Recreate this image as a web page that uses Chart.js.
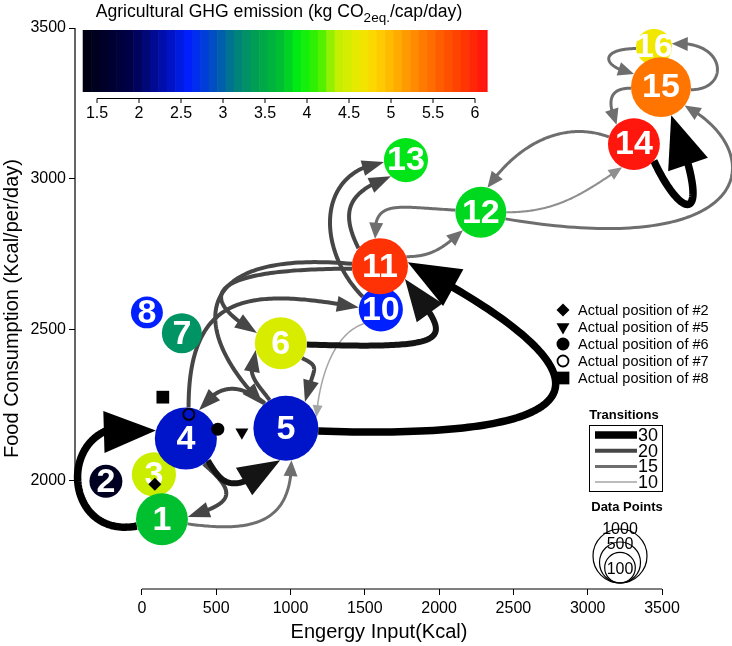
<!DOCTYPE html>
<html>
<head>
<meta charset="utf-8">
<script src="https://cdn.jsdelivr.net/npm/chart.js@4/dist/chart.umd.min.js"></script>
<style>html,body{margin:0;padding:0;background:#fff}</style>
</head>
<body>
<canvas id="chart" width="732" height="646"></canvas>
<script>
// states (drawing order: later ones sit on top)
const nodeIds = [2, 3, 1, 4, 5, 6, 7, 8, 10, 11, 12, 13, 14, 16, 15];
const energyInput = [-242, 81, 135, 296, 969, 935, 269, 34, 1608, 1602, 2281, 1777, 3311, 3446, 3493];
const foodConsumption = [1997, 2020, 1871, 2139, 2173, 2455, 2488, 2557, 2567, 2710, 2889, 3062, 3115, 3437, 3304];
const ghgEmission = [1.5, 4.42, 3.7, 2.4, 2.4, 4.5, 3.3, 2.6, 2.6, 5.9, 3.8, 3.85, 6.1, 4.65, 5.42];
const dataPoints = [190, 620, 920, 1310, 1420, 920, 460, 150, 620, 1080, 880, 620, 920, 310, 1230];

// transitions between states
const transFrom  = [1, 1, 4, 4, 4, 5, 5, 5, 6, 6, 10, 10, 11, 11, 11, 11, 12, 12, 12, 14, 14, 15, 15, 16];
const transTo    = [4, 5, 1, 5, 10, 4, 6, 11, 5, 11, 5, 13, 5, 6, 12, 13, 11, 14, 15, 12, 15, 14, 16, 15];
const transCount = [30, 15, 20, 25, 20, 20, 20, 30, 20, 25, 10, 20, 20, 20, 15, 20, 15, 12, 15, 15, 30, 15, 15, 15];

// actual positions of some states
const markerLabels = ['Actual position of #2', 'Actual position of #5', 'Actual position of #6', 'Actual position of #7', 'Actual position of #8'];
const markerX = [87, 673, 511, 316, 141];
const markerY = [1987, 2160, 2170, 2219, 2276];

const xTicks = [0, 500, 1000, 1500, 2000, 2500, 3000, 3500];
const yTicks = [2000, 2500, 3000, 3500];
const colorTicks = [1.5, 2, 2.5, 3, 3.5, 4, 4.5, 5, 5.5, 6];
const transitionLegend = [30, 20, 15, 10];
const pointLegend = [1000, 500, 100];

const FONT = 'Liberation Sans, Arial, Helvetica, sans-serif';

// colour scale of the emission bar
const cmapStops = [[1.33,[0,0,16]],[1.9,[0,0,72]],[2.3,[0,16,176]],[2.6,[0,32,255]],[2.9,[0,80,192]],
  [3.15,[0,128,128]],[3.4,[0,160,80]],[3.7,[0,192,48]],[3.9,[0,240,16]],[4.15,[64,240,0]],[4.35,[192,240,0]],
  [4.65,[240,232,0]],[4.85,[255,208,0]],[5.15,[255,160,0]],[5.45,[255,112,0]],[5.8,[255,64,0]],[6.15,[255,16,16]]];
function cmap(v) {
  let c = cmapStops[cmapStops.length - 1][1];
  if (v <= cmapStops[0][0]) c = cmapStops[0][1];
  for (let i = 1; i < cmapStops.length; i++) {
    if (v <= cmapStops[i][0] && v > cmapStops[i - 1][0]) {
      const t = (v - cmapStops[i - 1][0]) / (cmapStops[i][0] - cmapStops[i - 1][0]);
      c = cmapStops[i - 1][1].map((a, k) => a + (cmapStops[i][1][k] - a) * t);
      break;
    }
  }
  return 'rgb(' + c.map(Math.round).join(',') + ')';
}
const radius = n => 14 + 0.013 * n;

function interp(xs, ys, v) {
  if (v <= xs[0]) return ys[0];
  for (let i = 1; i < xs.length; i++) {
    if (v <= xs[i]) return ys[i - 1] + (ys[i] - ys[i - 1]) * (v - xs[i - 1]) / (xs[i] - xs[i - 1]);
  }
  return ys[ys.length - 1];
}
const wPts = [10, 15, 20, 25, 30];
function arrowStyle(w) {
  const g = Math.round(interp(wPts, [165, 110, 70, 20, 0], w));
  return {
    width: interp(wPts, [1.5, 3, 4, 6, 7.5], w),
    color: 'rgb(' + g + ',' + g + ',' + g + ')',
    headL: interp(wPts, [12, 16, 22, 42, 52], w),
    headW: interp(wPts, [5, 7, 8, 16, 21], w)
  };
}

// how each arrow leaves / enters its nodes: [angleOut, dx1, dy1, angleIn, dx2, dy2] (px)
const routes = {
  '1-4':   [165, -82, 15, 195, -101, -30],
  '1-5':   [10, 70, 10, 80, 0, 60],
  '4-1':   [55, 35, 30, -5, 45, -14],
  '4-5':   [45, 15, 25, 100, -48, 36],
  '4-10':  [-85, 0, -115, 185, -110, -20],
  '5-4':   [-130, -25, -20, -65, 20, -28],
  '5-6':   [-120, -15, -20, 165, -10, 25],
  '5-11':  [5, 300, 10, -8, 210, 110],
  '6-5':   [35, 20, 10, -54, 8, -35],
  '6-11':  [3, 160, 5, 27, 45, 60],
  '10-5':  [140, -30, 10, -20, 3, -40],
  '10-13': [-145, -45, -45, 175, -70, 10],
  '11-5':  [185, -170, -15, -134, -70, -70],
  '11-6':  [175, -150, 0, 203, -60, -35],
  '11-12': [-20, 25, 0, 135, -20, 18],
  '11-13': [-140, -20, -40, 133, -40, 15],
  '12-11': [185, -60, -3, -100, -2, -40],
  '12-14': [0, 50, 0, 117, -40, 27],
  '12-15': [15, 254, 43, 38, 85, 45],
  '14-12': [196, -40, -15, -75, 35, -50],
  '14-15': [40, 30, 64, 70, 44, 110],
  '15-14': [178, -25, 0, -132, -8, -20],
  '15-16': [5, 40, 0, -10, 55, -5],
  '16-15': [175, -35, 0, 206, -35, -8]
};

function nodePx(chart, id) {
  const i = nodeIds.indexOf(id);
  return {
    x: chart.scales.x.getPixelForValue(energyInput[i]),
    y: chart.scales.y.getPixelForValue(foodConsumption[i]),
    r: radius(dataPoints[i])
  };
}
function bez(p0, p1, p2, p3, t) {
  const u = 1 - t;
  return {
    x: u * u * u * p0.x + 3 * u * u * t * p1.x + 3 * u * t * t * p2.x + t * t * t * p3.x,
    y: u * u * u * p0.y + 3 * u * u * t * p1.y + 3 * u * t * t * p2.y + t * t * t * p3.y
  };
}
const dist = (a, b) => Math.hypot(a.x - b.x, a.y - b.y);
const rad = d => d * Math.PI / 180;

function drawArrow(ctx, chart, k) {
  const a = nodePx(chart, transFrom[k]), b = nodePx(chart, transTo[k]);
  const rt = routes[transFrom[k] + '-' + transTo[k]];
  const st = arrowStyle(transCount[k]);
  const p0 = {x: a.x + a.r * Math.cos(rad(rt[0])), y: a.y + a.r * Math.sin(rad(rt[0]))};
  const p1 = {x: p0.x + rt[1], y: p0.y + rt[2]};
  const p3 = {x: b.x + b.r * Math.cos(rad(rt[3])), y: b.y + b.r * Math.sin(rad(rt[3]))};
  const p2 = {x: p3.x + rt[4], y: p3.y + rt[5]};
  const N = 100, pts = [];
  for (let i = 0; i <= N; i++) pts.push(bez(p0, p1, p2, p3, i / N));
  let base = pts[0], lineEnd = 0;
  for (let i = N; i >= 0; i--) { if (dist(pts[i], p3) >= st.headL) { base = pts[i]; break; } }
  for (let i = N; i >= 0; i--) { if (dist(pts[i], p3) >= st.headL * 0.5) { lineEnd = i; break; } }
  ctx.save();
  ctx.strokeStyle = st.color;
  ctx.fillStyle = st.color;
  ctx.lineWidth = st.width;
  ctx.lineJoin = 'round';
  ctx.beginPath();
  ctx.moveTo(pts[0].x, pts[0].y);
  for (let i = 1; i <= lineEnd; i++) ctx.lineTo(pts[i].x, pts[i].y);
  ctx.stroke();
  const ang = Math.atan2(p3.y - base.y, p3.x - base.x);
  const bx = p3.x - st.headL * Math.cos(ang), by = p3.y - st.headL * Math.sin(ang);
  ctx.beginPath();
  ctx.moveTo(p3.x, p3.y);
  ctx.lineTo(bx + st.headW * Math.sin(ang), by - st.headW * Math.cos(ang));
  ctx.lineTo(bx - st.headW * Math.sin(ang), by + st.headW * Math.cos(ang));
  ctx.closePath();
  ctx.fill();
  ctx.restore();
}

const markerStyles = {
  pointStyle: ['rectRot', 'triangle', 'circle', 'circle', 'rect'],
  rotation: [0, 180, 0, 0, 0],
  radius: [6.5, 7.5, 6.5, 5.5, 9],
  fill: ['#000', '#000', '#000', 'rgba(0,0,0,0)', '#000'],
  border: [0, 0, 0, 1.8, 0]
};

const networkPlugin = {
  id: 'network',
  beforeDatasetsDraw(chart) {
    const ctx = chart.ctx;
    const order = transCount.map((c, i) => i).sort((p, q) => transCount[p] - transCount[q]);
    order.forEach(k => drawArrow(ctx, chart, k));
  },
  afterDatasetDraw(chart, args) {
    if (args.index !== 0) return;
    const ctx = chart.ctx;
    ctx.save();
    ctx.fillStyle = '#fff';
    ctx.font = 'bold 34px ' + FONT;
    ctx.textAlign = 'center';
    ctx.textBaseline = 'middle';
    nodeIds.forEach(id => {
      const p = nodePx(chart, id);
      ctx.fillText(String(id), p.x, p.y + 1);
    });
    ctx.restore();
  },
  afterDraw(chart) {
    const ctx = chart.ctx;
    const xs = chart.scales.x, ys = chart.scales.y, area = chart.chartArea;
    ctx.save();
    // axis lines (offset style)
    ctx.strokeStyle = '#000';
    ctx.lineWidth = 1.2;
    ctx.beginPath();
    ctx.moveTo(area.left, ys.getPixelForValue(yTicks[0]));
    ctx.lineTo(area.left, ys.getPixelForValue(yTicks[yTicks.length - 1]));
    ctx.moveTo(xs.getPixelForValue(xTicks[0]), area.bottom);
    ctx.lineTo(xs.getPixelForValue(xTicks[xTicks.length - 1]), area.bottom);
    ctx.stroke();

    // x axis title
    ctx.fillStyle = '#000';
    ctx.font = '20px ' + FONT;
    ctx.textAlign = 'center';
    ctx.textBaseline = 'middle';
    ctx.fillText('Engergy Input(Kcal)', 379, 632);

    // colour bar
    const cbX = v => 97 + (v - 1.5) * 84;
    for (let v = 1.33; v < 6.15; v += 0.1) {
      ctx.fillStyle = cmap(v + 0.05);
      const x0 = cbX(v), x1 = Math.min(cbX(v + 0.1) + 0.6, cbX(6.15));
      ctx.fillRect(x0, 30, x1 - x0, 62);
    }
    ctx.strokeStyle = '#000';
    ctx.lineWidth = 1;
    ctx.beginPath();
    ctx.moveTo(cbX(colorTicks[0]), 98.5);
    ctx.lineTo(cbX(colorTicks[colorTicks.length - 1]), 98.5);
    colorTicks.forEach(v => { ctx.moveTo(cbX(v), 98.5); ctx.lineTo(cbX(v), 103); });
    ctx.stroke();
    ctx.fillStyle = '#000';
    ctx.font = '16px ' + FONT;
    ctx.textAlign = 'center';
    ctx.textBaseline = 'middle';
    colorTicks.forEach(v => ctx.fillText(String(v), cbX(v), 114));
    // colour bar title with subscript
    const t1 = 'Agricultural GHG emission (kg CO', t2 = '2eq.', t3 = '/cap/day)';
    ctx.font = '17.6px ' + FONT;
    const w1 = ctx.measureText(t1).width, w3 = ctx.measureText(t3).width;
    ctx.font = '13.5px ' + FONT;
    const w2 = ctx.measureText(t2).width;
    let tx = 279 - (w1 + w2 + w3) / 2;
    ctx.textAlign = 'left';
    ctx.font = '17.6px ' + FONT;
    ctx.fillText(t1, tx, 12);
    ctx.font = '13.5px ' + FONT;
    ctx.fillText(t2, tx + w1, 18);
    ctx.font = '17.6px ' + FONT;
    ctx.fillText(t3, tx + w1 + w2, 12);

    // actual position legend
    ctx.font = '14.5px ' + FONT;
    markerLabels.forEach((lab, i) => {
      const y = 310 + i * 17;
      ctx.fillStyle = markerStyles.fill[i];
      ctx.strokeStyle = '#000';
      ctx.lineWidth = markerStyles.border[i];
      Chart.helpers.drawPoint(ctx, {
        pointStyle: markerStyles.pointStyle[i], rotation: markerStyles.rotation[i],
        radius: markerStyles.radius[i], borderWidth: markerStyles.border[i]
      }, 563, y);
      ctx.fillStyle = '#000';
      ctx.fillText(lab, 578, y + 1);
    });

    // transitions legend
    ctx.textAlign = 'center';
    ctx.font = 'bold 13px ' + FONT;
    ctx.fillText('Transitions', 624, 415);
    ctx.lineWidth = 1;
    ctx.strokeStyle = '#000';
    ctx.strokeRect(589.5, 425.5, 73, 66);
    ctx.textAlign = 'left';
    ctx.font = '18px ' + FONT;
    transitionLegend.forEach((w, i) => {
      const st = arrowStyle(w);
      const y = 435 + i * 15.7;
      ctx.strokeStyle = st.color;
      ctx.lineWidth = st.width;
      ctx.beginPath();
      ctx.moveTo(595, y);
      ctx.lineTo(637, y);
      ctx.stroke();
      ctx.fillStyle = '#000';
      ctx.fillText(String(w), 638, y + 1);
    });

    // data points legend
    ctx.textAlign = 'center';
    ctx.font = 'bold 13px ' + FONT;
    ctx.fillText('Data Points', 627, 507);
    ctx.strokeStyle = '#000';
    ctx.lineWidth = 1.2;
    const labelDy = [1, 3, 17];
    pointLegend.forEach((n, i) => {
      const r = radius(n);
      const cy = 583 - r;
      ctx.beginPath();
      ctx.arc(620, cy, r, 0, Math.PI * 2);
      ctx.stroke();
      ctx.font = '16px ' + FONT;
      ctx.fillText(String(n), 620, cy - r + labelDy[i]);
    });
    ctx.restore();
  }
};

new Chart(document.getElementById('chart'), {
  type: 'bubble',
  data: {
    datasets: [
      {
        label: 'States',
        data: nodeIds.map((id, i) => ({x: energyInput[i], y: foodConsumption[i], r: radius(dataPoints[i])})),
        backgroundColor: ghgEmission.map(cmap),
        borderWidth: 0,
        order: 2,
        clip: false
      },
      {
        type: 'scatter',
        label: 'Actual positions',
        data: markerX.map((x, i) => ({x: x, y: markerY[i]})),
        pointStyle: markerStyles.pointStyle,
        rotation: markerStyles.rotation,
        pointRadius: markerStyles.radius,
        backgroundColor: markerStyles.fill,
        borderColor: '#000',
        borderWidth: markerStyles.border,
        order: 1,
        clip: false
      }
    ]
  },
  options: {
    responsive: false,
    animation: false,
    events: [],
    layout: {autoPadding: false, padding: {left: 0, top: 28, right: 70, bottom: 0}},
    plugins: {legend: {display: false}, tooltip: {enabled: false}},
    scales: {
      x: {
        type: 'linear', min: -450, max: 3500,
        afterBuildTicks: s => { s.ticks = xTicks.map(v => ({value: v})); },
        afterFit: s => { s.height = 57; },
        grid: {drawOnChartArea: false, drawTicks: true, tickLength: 6, color: '#000'},
        border: {display: false},
        ticks: {color: '#000', font: {size: 16, family: FONT}, padding: 4, maxRotation: 0, autoSkip: false,
          callback: v => String(v)},
        title: {display: false}
      },
      y: {
        type: 'linear', min: 1640, max: 3500,
        afterBuildTicks: s => { s.ticks = yTicks.map(v => ({value: v})); },
        afterFit: s => { s.width = 75; },
        grid: {drawOnChartArea: false, drawTicks: true, tickLength: 6, color: '#000'},
        border: {display: false},
        ticks: {color: '#000', font: {size: 16, family: FONT}, padding: 3, autoSkip: false,
          callback: v => String(v)},
        title: {display: true, text: 'Food Consumption (Kcal/per/day)', color: '#000', font: {size: 20, family: FONT}, padding: {top: 0, bottom: 0}}
      }
    }
  },
  plugins: [networkPlugin]
});
</script>
</body>
</html>
